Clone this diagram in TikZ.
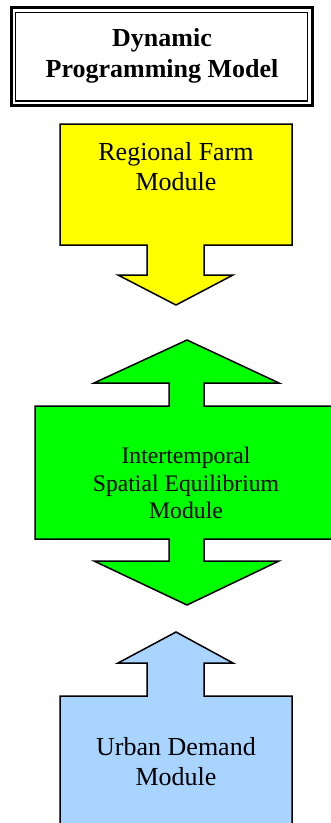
\documentclass[tikz,border=0pt]{standalone}
\usepackage{fontspec}
\setmainfont{Liberation Serif}
\definecolor{yel}{RGB}{255,255,0}
\definecolor{grn}{RGB}{0,255,0}
\definecolor{lblue}{RGB}{168,212,255}
\tikzset{
  shapeline/.style={draw=black, line width=1.5pt, line join=miter},
  label/.style={align=center, inner sep=0pt, font=\fontsize{26}{30}\selectfont},
  titlelabel/.style={align=center, inner sep=0pt, font=\fontsize{26}{31}\selectfont\bfseries}
}
\begin{document}
\begin{tikzpicture}[x=1pt,y=-1pt]
\clip (0,0) rectangle (331,823);
\fill[white] (0,0) rectangle (331,823);
% title double frame
\draw[line width=3pt] (11.5,7.5) rectangle (312,105.5);
\draw[line width=1.6pt] (15.5,12.5) rectangle (307.5,101);
\node[titlelabel] (dp) at (162,56) {Dynamic\\Programming Model};
% yellow
\path[shapeline, fill=yel] (60,124) -- (292,124) -- (292,245) -- (204,245) -- (204,275) -- (233,275) -- (176,305) -- (118,275) -- (147,275) -- (147,245) -- (60,245) -- cycle;
\node[label] (rf) at (176,167) {Regional Farm\\Module};
% green
\path[shapeline, fill=grn] (187,340) -- (279,383) -- (204,383) -- (204,406) -- (345,406) -- (345,539) -- (204,539) -- (204,561) -- (279,561) -- (187,605) -- (94,561) -- (169,561) -- (169,539) -- (35,539) -- (35,406) -- (169,406) -- (169,383) -- (94,383) -- cycle;
\node[label, font=\fontsize{23.7}{27.5}\selectfont] (se) at (186,483) {Intertemporal\\Spatial Equilibrium\\Module};
% blue
\path[shapeline, fill=lblue] (176,632) -- (233,663) -- (204,663) -- (204,696) -- (292,696) -- (292,840) -- (60,840) -- (60,696) -- (147,696) -- (147,663) -- (118,663) -- cycle;
\node[label] (ud) at (176,762) {Urban Demand\\Module};
\end{tikzpicture}
\end{document}
